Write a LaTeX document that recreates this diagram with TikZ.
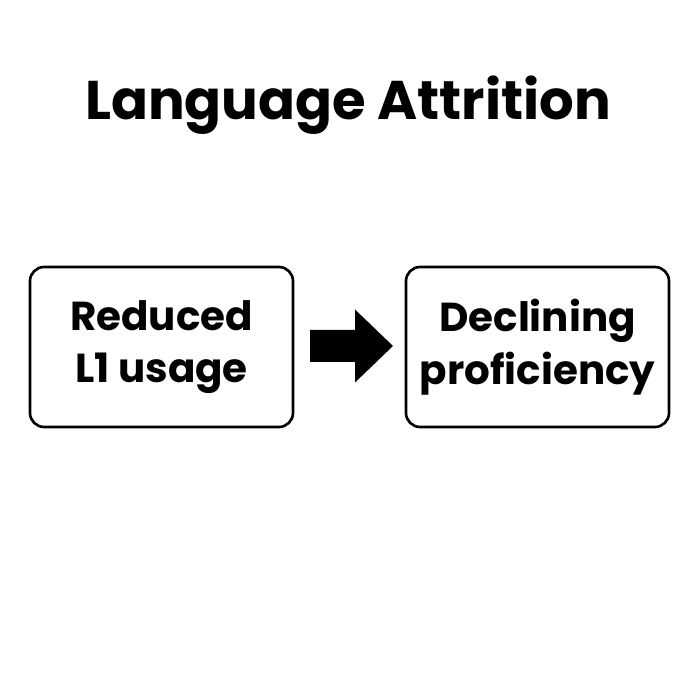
\documentclass[tikz,border=0pt]{standalone}
\usepackage{fontspec}
\setmainfont{Poppins}
\usetikzlibrary{positioning}

\begin{document}
\begin{tikzpicture}[
        box/.style={
            rectangle, rounded corners=8pt, draw=black, line width=1.5pt,
            fill=white, minimum width=5.26cm, minimum height=3.2cm,
            text centered, font=\fontsize{23}{30}\selectfont\bfseries
        },
        title/.style={font=\fontsize{31}{36}\selectfont\bfseries},
    ]
    \useasboundingbox (0,0) rectangle (14,14);

    % ── Title ──
    \node[title] (head) at (6.96,11.9) {Language Attrition};

    % ── Boxes ──
    \node[box, align=center] (usage) at (3.23,7.06) {Reduced\\L1 usage};
    \node[box, align=center] (decline) at (10.75,7.06) {Declining\\proficiency};

    % ── Arrow ──
    \coordinate (link) at (7.03,7.08);
    \fill[black] ([shift={(-0.83,0.32)}]link) -- ([shift={(0.07,0.32)}]link)
        -- ([shift={(0.07,0.73)}]link) -- ([shift={(0.83,0)}]link)
        -- ([shift={(0.07,-0.73)}]link) -- ([shift={(0.07,-0.32)}]link)
        -- ([shift={(-0.83,-0.32)}]link) -- cycle;
\end{tikzpicture}
\end{document}
